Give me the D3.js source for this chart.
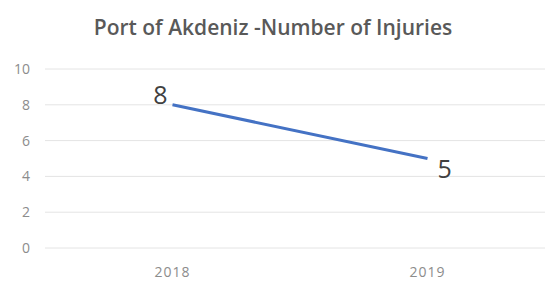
<!DOCTYPE html>
<html>
<head>
<script src="https://d3js.org/d3.v7.min.js"></script>
<style>
  body { margin: 0; background: #fff; }
</style>
</head>
<body>
<svg id="chart" width="545" height="281"></svg>
<script>
  const years = ["2018", "2019"];
  const injuries = [8, 5];
  const yTicks = [0, 2, 4, 6, 8, 10];

  const svg = d3.select("svg#chart");
  const font = "'Open Sans', sans-serif";

  const x = d3.scaleBand().domain(years).range([45, 555]);
  const y = d3.scaleLinear().domain([0, 10]).range([248, 69]);

  // title
  svg.append("text")
     .attr("x", 273)
     .attr("y", 35)
     .attr("text-anchor", "middle")
     .attr("font-family", font)
     .attr("font-weight", 600)
     .attr("font-size", "21px")
     .attr("fill", "#595959")
     .text("Port of Akdeniz -Number of Injuries");

  // gridlines
  svg.append("g")
     .selectAll("line")
     .data(yTicks)
     .join("line")
     .attr("x1", 45)
     .attr("x2", 545)
     .attr("y1", d => y(d))
     .attr("y2", d => y(d))
     .attr("stroke", "#e4e4e4")
     .attr("stroke-width", 1);

  // y axis labels
  const yAxis = svg.append("g")
     .attr("transform", "translate(30,0)")
     .call(d3.axisLeft(y).tickValues(yTicks).tickSize(0).tickPadding(0));
  yAxis.select(".domain").remove();
  yAxis.selectAll("text")
     .attr("font-family", font)
     .attr("font-size", "14px")
     .attr("fill", "#8c8c8c");

  // x axis labels
  const xAxis = svg.append("g")
     .attr("transform", "translate(0,277)")
     .call(d3.axisBottom(x).tickSize(0).tickPadding(0));
  xAxis.select(".domain").remove();
  xAxis.selectAll("text")
     .attr("dy", 0)
     .attr("font-family", font)
     .attr("font-size", "14px")
     .attr("letter-spacing", "1px")
     .attr("fill", "#8c8c8c");

  // line
  const line = d3.line()
     .x((d, i) => x(years[i]) + x.bandwidth() / 2)
     .y(d => y(d));

  svg.append("path")
     .datum(injuries)
     .attr("d", line)
     .attr("fill", "none")
     .attr("stroke", "#4472c4")
     .attr("stroke-width", 3);

  // data labels
  const labelOffsets = [[-5, -1, "end"], [10, 19, "start"]];
  svg.append("g")
     .selectAll("text")
     .data(injuries)
     .join("text")
     .attr("x", (d, i) => x(years[i]) + x.bandwidth() / 2 + labelOffsets[i][0])
     .attr("y", (d, i) => y(d) + labelOffsets[i][1])
     .attr("text-anchor", (d, i) => labelOffsets[i][2])
     .attr("font-family", font)
     .attr("font-size", "25px")
     .attr("fill", "#404040")
     .text(d => d);
</script>
</body>
</html>
